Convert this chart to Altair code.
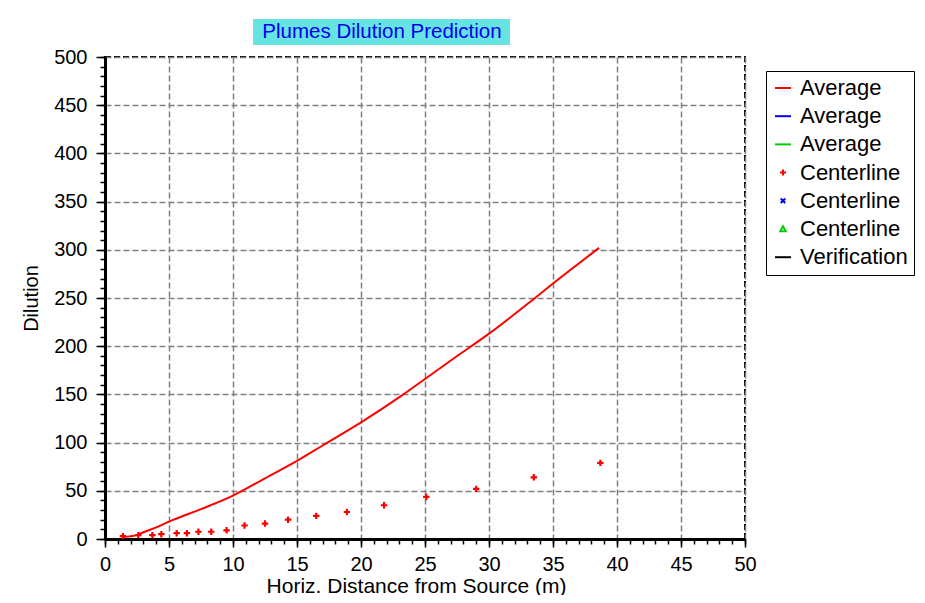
import altair as alt
import pandas as pd

# ---- data ----
avg_x = [1.4, 2.5, 3.0, 4.0, 5.0, 7.5, 10.0, 12.5, 15.0, 17.0, 20.0, 23.2, 25.0, 27.1, 30.0, 33.4, 35.0, 38.6]
avg_y = [2, 4, 7, 12, 18, 31, 45, 63, 81, 97, 121, 149, 166, 186, 213, 248, 265, 302]

cl_x = [1.4, 2.6, 3.7, 4.4, 5.6, 6.4, 7.3, 8.3, 9.5, 10.9, 12.5, 14.3, 16.5, 18.9, 21.8, 25.1, 29.0, 33.5, 38.7]
cl_y = [3, 4, 4, 5, 6, 6, 7.5, 7.5, 9, 14, 16, 20, 24, 28, 35, 43.6, 52, 64, 79]

series_names = ["Average", "Average#2", "Average#3",
                "Centerline", "Centerline#2", "Centerline#3", "Verification"]
series_colors = ["#ff0000", "#0000ff", "#00cc00",
                 "#ff0000", "#0000ff", "#00cc00", "#000000"]

LINE = "M-1.6,0L1.6,0"
PLUS = "M-0.6,0L0.6,0M0,-0.6L0,0.6"
XMARK = "M-0.45,-0.45L0.45,0.45M-0.45,0.45L0.45,-0.45"
TRI = "M0,-0.55L0.55,0.45L-0.55,0.45Z"
series_shapes = [LINE, LINE, LINE, PLUS, XMARK, TRI, LINE]

x_major = list(range(0, 51, 5))
x_minor = list(range(0, 51, 1))
y_major = list(range(0, 501, 50))
y_minor = list(range(0, 501, 10))

title_text = ["Plumes Dilution Prediction"]

# ---- build ----
avg_df = pd.DataFrame({"x": avg_x, "y": avg_y, "series": "Average"})
cl_df = pd.DataFrame({"x": cl_x, "y": cl_y, "series": "Centerline"})
title_df = pd.DataFrame({"label": title_text})

FONT = "Liberation Sans"

xscale = alt.Scale(domain=[0, 50], nice=False, zero=False)
yscale = alt.Scale(domain=[0, 500], nice=False)
color_scale = alt.Scale(domain=series_names, range=series_colors)
shape_scale = alt.Scale(domain=series_names, range=series_shapes)

major_x = alt.Axis(values=x_major, orient="bottom", title="Horiz. Distance from Source (m)",
                   grid=True, gridColor="#808080", gridDash=[6, 3], gridWidth=1.5, gridOpacity=1,
                   domain=True, domainColor="black", domainWidth=3,
                   ticks=True, tickColor="black", tickWidth=1.5, tickSize=8,
                   labelFont=FONT, labelFontSize=20, labelColor="black", labelPadding=7,
                   labelFlush=False, labelOverlap=False,
                   titleFont=FONT, titleFontSize=21, titleFontWeight="normal",
                   titleColor="black", titlePadding=1, titleX=311)
minor_x = alt.Axis(values=x_minor, orient="bottom", title=None, grid=False, domain=False,
                   labels=False, ticks=True, tickColor="black", tickWidth=1.5, tickSize=5)
major_y = alt.Axis(values=y_major, orient="left", title="Dilution",
                   grid=True, gridColor="#808080", gridDash=[6, 3], gridWidth=1.5, gridOpacity=1,
                   domain=True, domainColor="black", domainWidth=3,
                   ticks=True, tickColor="black", tickWidth=1.5, tickSize=9,
                   labelFont=FONT, labelFontSize=20, labelColor="black", labelPadding=9,
                   labelOverlap=False,
                   titleFont=FONT, titleFontSize=20, titleFontWeight="normal",
                   titleColor="black", titlePadding=12)
minor_y = alt.Axis(values=y_minor, orient="left", title=None, grid=False, domain=False,
                   labels=False, ticks=True, tickColor="black", tickWidth=1.5, tickSize=5)


def make_legend():
    return alt.Legend(title=None, orient="none", legendX=661, legendY=14,
                      labelExpr="split(datum.label, '#')[0]",
                      labelFont=FONT, labelFontSize=22, labelColor="black",
                      symbolSize=100, symbolStrokeWidth=2, symbolOffset=0,
                      padding=6, labelOffset=6, rowPadding=6.2,
                      strokeColor="black", fillColor="white")


title_bg = alt.Chart(title_df).mark_rect(color="#66e3e3").encode(
    x=alt.value(148), x2=alt.value(405), y=alt.value(-38), y2=alt.value(-12))
title_txt = alt.Chart(title_df).mark_text(
    font=FONT, fontSize=20.5, color="#0000ee", align="center", baseline="middle").encode(
    x=alt.value(277), y=alt.value(-25), text="label:N")

line = alt.Chart(avg_df).mark_line(strokeWidth=2, interpolate="monotone").encode(
    x=alt.X("x:Q", scale=xscale, axis=minor_x),
    y=alt.Y("y:Q", scale=yscale, axis=minor_y),
    color=alt.Color("series:N", scale=color_scale, legend=make_legend()),
)

points = alt.Chart(cl_df).mark_point(filled=False, size=115, strokeWidth=2.2, opacity=1).encode(
    x=alt.X("x:Q", scale=xscale, axis=major_x),
    y=alt.Y("y:Q", scale=yscale, axis=major_y),
    color=alt.Color("series:N", scale=color_scale, legend=make_legend()),
    shape=alt.Shape("series:N", scale=shape_scale, legend=make_legend()),
)

chart = alt.layer(title_bg, title_txt, line, points).resolve_axis(
    x="independent", y="independent"
).properties(
    width=640, height=482,
    autosize=alt.AutoSizeParams(type="none"),
    padding={"left": 97, "top": 49, "right": 172, "bottom": 56},
    background="white",
).configure_view(
    stroke="black", strokeWidth=2, strokeDash=[6, 3]
)

chart.save("out.html", embed_options={"renderer": "svg", "actions": False})
